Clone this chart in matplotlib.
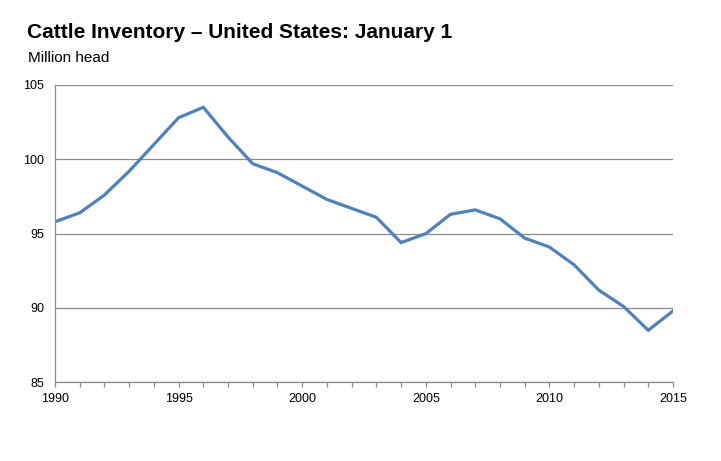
import matplotlib
matplotlib.use("Agg")
import matplotlib.pyplot as plt
from matplotlib.ticker import MultipleLocator

years = list(range(1990, 2016))
inventory = [95.8, 96.4, 97.6, 99.2, 101.0, 102.8, 103.5, 101.5, 99.7, 99.1,
             98.2, 97.3, 96.7, 96.1, 94.4, 95.0, 96.3, 96.6, 96.0, 94.7,
             94.1, 92.9, 91.2, 90.1, 88.5, 89.8]
x_ticks = [1990, 1995, 2000, 2005, 2010, 2015]
y_ticks = [85, 90, 95, 100, 105]

plt.rcParams['font.family'] = ['Liberation Sans', 'DejaVu Sans']

fig = plt.figure(figsize=(7.21, 4.61), dpi=100)
ax = fig.add_axes([55/721, 1-382.3/461, (673-55)/721, (382.3-85)/461])

ax.plot(years, inventory, color='#4F81BD', lw=2.3, solid_joinstyle='miter')
ax.set_xlim(1990, 2015)
ax.set_ylim(85, 105)
ax.set_xticks(x_ticks)
ax.xaxis.set_minor_locator(MultipleLocator(1))
ax.set_yticks(y_ticks)
ax.grid(axis='y', color='#8c8c8c', lw=0.9)
ax.set_axisbelow(True)
for s in ['top', 'right']:
    ax.spines[s].set_visible(False)
for s in ['left', 'bottom']:
    ax.spines[s].set_color('#8c8c8c')
    ax.spines[s].set_linewidth(0.9)
ax.tick_params(axis='x', which='both', direction='out', length=3.5, color='#8c8c8c', width=0.9,
               labelsize=9, pad=4)
ax.tick_params(axis='y', length=0, labelsize=9, pad=8)

fig.text(27/721, 1-38/461, 'Cattle Inventory \u2013 United States: January 1',
         fontsize=15, fontweight='bold', ha='left', va='baseline')
fig.text(28/721, 1-62/461, 'Million head', fontsize=11, ha='left', va='baseline')

fig.savefig('out.png', dpi=100)
